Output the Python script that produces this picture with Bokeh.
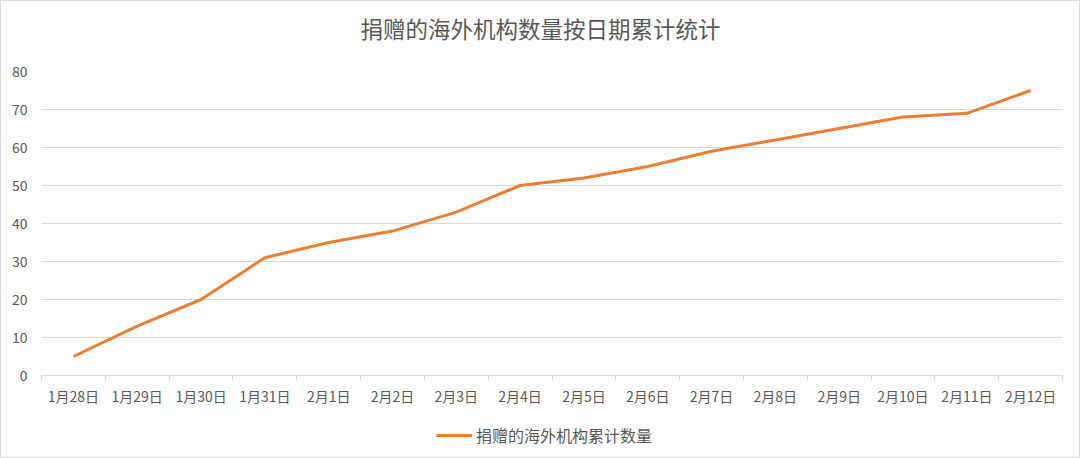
from bokeh.plotting import figure
from bokeh.models import FixedTicker, Legend, LegendItem, ColumnDataSource, Label
from bokeh.layouts import column
from bokeh.embed import file_html
from bokeh.resources import INLINE

dates = ["1月28日", "1月29日", "1月30日", "1月31日", "2月1日", "2月2日", "2月3日", "2月4日",
         "2月5日", "2月6日", "2月7日", "2月8日", "2月9日", "2月10日", "2月11日", "2月12日"]
counts = [5, 13, 20, 31, 35, 38, 43, 50, 52, 55, 59, 62, 65, 68, 69, 75]
y_ticks = [0, 10, 20, 30, 40, 50, 60, 70, 80]
title_text = "捐赠的海外机构数量按日期累计统计"
series_name = "捐赠的海外机构累计数量"

FONT = "Noto Sans CJK SC"
GRAY = "#595959"
ORANGE = "#ED7D31"
W = 1078
LEFT = 40  # frames of the stacked figures are aligned to the main frame's left edge


def blank(height):
    f = figure(width=W, height=height, output_backend="svg", toolbar_location=None,
               x_axis_type=None, y_axis_type=None, min_border=0)
    f.outline_line_color = None
    f.grid.grid_line_color = None
    return f


# title strip
p0 = blank(60)
p0.add_layout(Label(x=W / 2 - LEFT, y=34, x_units="screen", y_units="screen", text=title_text,
                    text_align="center", text_baseline="middle", text_font=FONT,
                    text_font_size="22.5px", text_color=GRAY))

# main chart
xs = [i + 0.5 for i in range(len(dates))]
src = ColumnDataSource(dict(x=xs, y=counts))

p = figure(frame_width=1021, frame_height=304, output_backend="svg", toolbar_location=None,
           x_range=(0, len(dates)), y_range=(0, 80),
           min_border_left=LEFT, min_border_right=17, min_border_top=10, min_border_bottom=40)
p.outline_line_color = None
p.background_fill_color = "white"
p.border_fill_color = "white"

p.line("x", "y", source=src, line_color=ORANGE, line_width=3)

xa = p.xaxis[0]
xa.ticker = FixedTicker(ticks=xs, minor_ticks=list(range(len(dates) + 1)))
xa.major_label_overrides = {x: d for x, d in zip(xs, dates)}
xa.major_tick_line_color = None
xa.major_tick_in = 0
xa.major_tick_out = 0
xa.minor_tick_line_color = "#d9d9d9"
xa.minor_tick_in = 0
xa.minor_tick_out = 5
xa.axis_line_color = "#d9d9d9"
xa.major_label_text_font = FONT
xa.major_label_text_font_size = "14px"
xa.major_label_text_color = GRAY
xa.major_label_standoff = 5

ya = p.yaxis[0]
ya.ticker = FixedTicker(ticks=y_ticks)
ya.axis_line_color = None
ya.major_tick_line_color = None
ya.major_tick_in = 0
ya.major_tick_out = 0
ya.minor_tick_line_color = None
ya.major_label_text_font = FONT
ya.major_label_text_font_size = "14px"
ya.major_label_text_color = GRAY
ya.major_label_standoff = 14

p.xgrid.grid_line_color = None
p.ygrid.grid_line_color = "#d9d9d9"
p.ygrid.ticker = FixedTicker(ticks=y_ticks[1:])

# legend strip (hidden copy of the series supplies the legend swatch)
p2 = blank(456 - 60 - (10 + 304 + 40))
lr = p2.line("x", "y", source=src, line_color=ORANGE, line_width=3, visible=False)
legend = Legend(items=[LegendItem(label=series_name, renderers=[lr])],
                location=(435 - LEFT, 10), orientation="horizontal",
                label_text_font=FONT, label_text_font_size="16px", label_text_color=GRAY,
                glyph_width=36, glyph_height=16, label_standoff=4,
                border_line_color=None, background_fill_alpha=0, padding=0, margin=0)
p2.add_layout(legend)

layout = column(p0, p, p2, spacing=0, styles={"border": "1px solid #d9d9d9"})

open("out.html", "w").write(file_html(layout, INLINE))
